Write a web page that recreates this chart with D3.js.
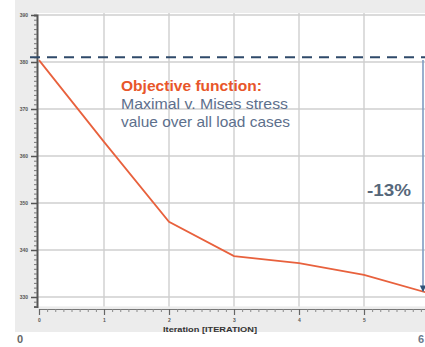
<!DOCTYPE html>
<html>
<head>
<meta charset="utf-8">
<script src="https://cdn.jsdelivr.net/npm/d3@7"></script>
<style>
  html, body { margin: 0; padding: 0; background: #fff; }
  svg { display: block; }
</style>
</head>
<body>
<svg id="chart" width="425" height="347"></svg>
<script>
// Optimisation history: maximal von Mises stress per iteration
const iterations = [0, 1, 2, 3, 4, 5, 6];
const maxStress = [380.4, 363.0, 346.0, 338.7, 337.2, 334.7, 330.8];
const yTicks = [330, 340, 350, 360, 370, 380, 390];
const xTickLabels = ["0", "1", "2", "3", "4", "5"];
const referenceLevel = [381];
const changeLabel = ["-13%"];
const titleLines = ["Objective function:", "Maximal v. Mises stress", "value over all load cases"];

const svg = d3.select("#chart");

const x = d3.scaleLinear().domain([0, 6]).range([39, 429]);
const y = d3.scaleLinear().domain([328, 390]).range([306.4, 15]);

// panel background
svg.append("rect").attr("x", 15).attr("y", 0).attr("width", 410).attr("height", 332).attr("fill", "#ececec");
// plot area
svg.append("rect").attr("x", 37).attr("y", 13).attr("width", 388).attr("height", y(328) - 13).attr("fill", "#ffffff");

// grid
const grid = svg.append("g").attr("stroke", "#cfcfcf").attr("stroke-width", 1.4);
grid.selectAll("line.h").data(yTicks).join("line")
  .attr("x1", 37).attr("x2", 425).attr("y1", d => y(d)).attr("y2", d => y(d));
grid.selectAll("line.v").data(iterations.slice(1)).join("line")
  .attr("y1", 13).attr("y2", y(328)).attr("x1", d => x(d)).attr("x2", d => x(d));

// y axis with minor ticks
const yMinor = d3.range(328, 391, 1);
const yAxisMinor = d3.axisLeft(y).tickValues(yMinor).tickSize(3).tickFormat("");
const gyMinor = svg.append("g").attr("transform", "translate(37,0)").call(yAxisMinor);
gyMinor.selectAll("line").attr("stroke", "#777");
gyMinor.select(".domain").attr("stroke", "#555").attr("stroke-width", 2);
const yAxis = d3.axisLeft(y).tickValues(yTicks).tickSize(6).tickPadding(3).tickFormat(d3.format("d"));
const gy = svg.append("g").attr("transform", "translate(37,0)").call(yAxis);
gy.select(".domain").remove();
gy.selectAll("line").attr("stroke", "#555").attr("stroke-width", 1.5);
gy.selectAll("text").attr("font-family", "Liberation Sans, Arial, sans-serif")
  .attr("font-size", 5).attr("font-weight", "bold").attr("fill", "#555");

// x axis (offset below the plot) with minor ticks
const xMinor = d3.range(0, 6.01, 1 / 8);
const gxMinor = svg.append("g").attr("transform", "translate(0,309)")
  .call(d3.axisBottom(x).tickValues(xMinor).tickSize(3).tickFormat(""));
gxMinor.select(".domain").attr("stroke", "#777").attr("stroke-width", 1);
gxMinor.selectAll("line").attr("stroke", "#888");
const gx = svg.append("g").attr("transform", "translate(0,309)")
  .call(d3.axisBottom(x).tickValues(iterations.slice(0, xTickLabels.length)).tickSize(6).tickPadding(3)
    .tickFormat((d, i) => xTickLabels[i]));
gx.select(".domain").remove();
gx.selectAll("line").attr("stroke", "#666").attr("stroke-width", 1.2);
gx.selectAll("text").attr("font-family", "Liberation Sans, Arial, sans-serif")
  .attr("font-size", 5).attr("font-weight", "bold").attr("fill", "#555");

svg.append("text").attr("x", 210).attr("y", 332).attr("text-anchor", "middle")
  .attr("font-family", "Liberation Sans Narrow, Arial Narrow, Liberation Sans, sans-serif")
  .attr("font-size", 8).attr("font-weight", "bold").attr("fill", "#333")
  .attr("textLength", 94).attr("lengthAdjust", "spacingAndGlyphs")
  .text("Iteration [ITERATION]");

// reference level (dashed)
svg.selectAll("line.ref").data(referenceLevel).join("line")
  .attr("x1", 30).attr("x2", 425).attr("y1", d => y(d)).attr("y2", d => y(d))
  .attr("stroke", "#2f4a6a").attr("stroke-width", 2).attr("stroke-dasharray", "10,7");

// stress curve
const line = d3.line().x((d, i) => x(iterations[i])).y(d => y(d));
svg.append("path").datum(maxStress).attr("d", line)
  .attr("fill", "none").attr("stroke", "#e8613d").attr("stroke-width", 1.8);

// reduction arrow
const defs = svg.append("defs");
defs.append("marker").attr("id", "arrow").attr("viewBox", "0 0 10 10")
  .attr("refX", 9).attr("refY", 5).attr("markerWidth", 4).attr("markerHeight", 5)
  .attr("orient", "auto").append("path").attr("d", "M0,0 L10,5 L0,10 Z").attr("fill", "#2f5378");
svg.append("line").attr("x1", 423).attr("x2", 423)
  .attr("y1", y(maxStress[0])).attr("y2", y(maxStress[maxStress.length - 1]) - 2)
  .attr("stroke", "#7f9cc2").attr("stroke-width", 1.6).attr("marker-end", "url(#arrow)");

svg.selectAll("text.pct").data(changeLabel).join("text").attr("class", "pct")
  .attr("x", 389).attr("y", 196).attr("text-anchor", "middle")
  .attr("font-family", "Liberation Sans Narrow, Arial Narrow, Liberation Sans, sans-serif")
  .attr("font-size", 16).attr("font-weight", "bold").attr("fill", "#56677a")
  .attr("textLength", 44).attr("lengthAdjust", "spacingAndGlyphs")
  .text(d => d);

// objective function annotation
const titleColors = ["#e8562a", "#5d6f8c", "#5d6f8c"];
const titleWidths = [141, 167, 169];
svg.selectAll("text.title").data(titleLines).join("text").attr("class", "title")
  .attr("x", 121).attr("y", (d, i) => 91 + i * 18)
  .attr("font-family", "Liberation Sans Narrow, Arial Narrow, Liberation Sans, sans-serif")
  .attr("font-size", 15).attr("font-weight", (d, i) => i === 0 ? "bold" : "normal")
  .attr("fill", (d, i) => titleColors[i])
  .attr("textLength", (d, i) => titleWidths[i]).attr("lengthAdjust", "spacingAndGlyphs")
  .text(d => d);

// corner labels
svg.append("text").attr("x", 20).attr("y", 343).attr("text-anchor", "middle")
  .attr("font-family", "Liberation Sans, Arial, sans-serif").attr("font-size", 11)
  .attr("font-weight", "bold").attr("fill", "#666").text("0");
svg.append("text").attr("x", 421).attr("y", 343).attr("text-anchor", "middle")
  .attr("font-family", "Liberation Sans, Arial, sans-serif").attr("font-size", 11)
  .attr("font-weight", "bold").attr("fill", "#6a7a8c").text("6");
</script>
</body>
</html>
